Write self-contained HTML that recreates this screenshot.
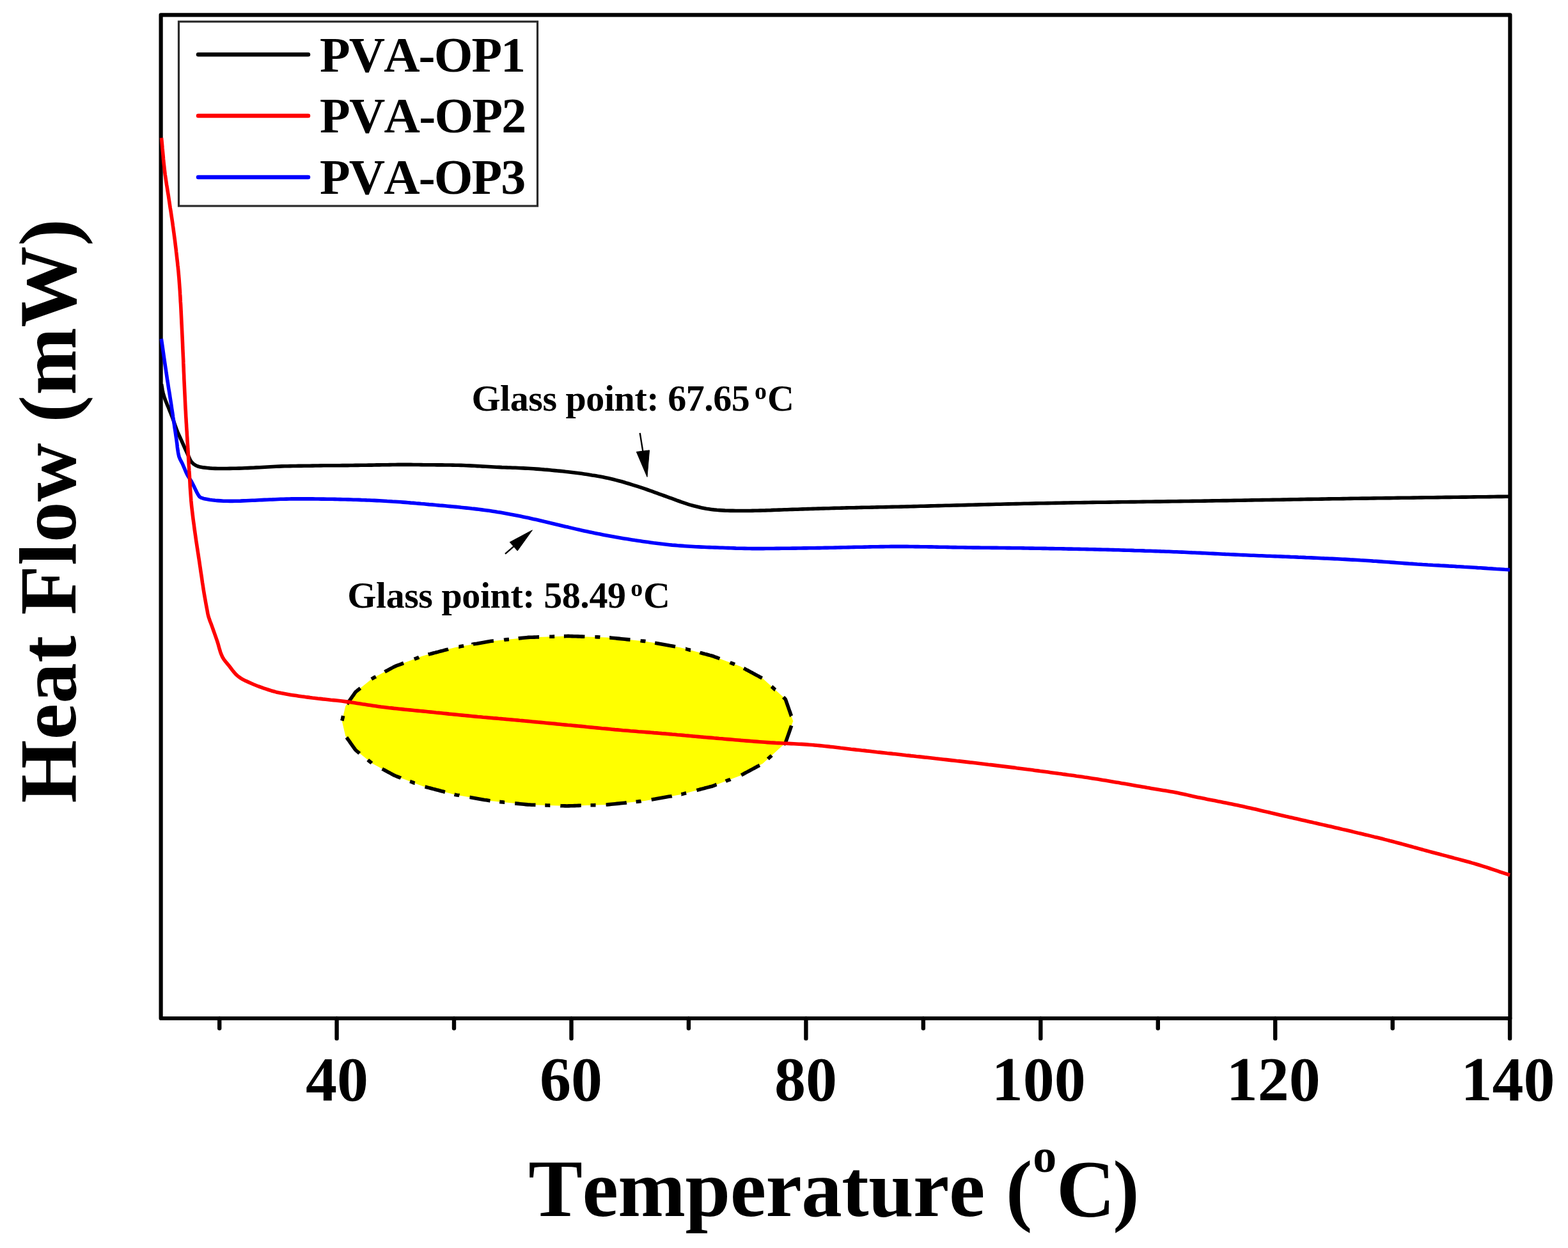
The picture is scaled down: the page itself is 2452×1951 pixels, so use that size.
<!DOCTYPE html>
<html><head><meta charset="utf-8"><title>DSC curves</title>
<style>
html,body{margin:0;padding:0;background:#fff;}
svg{display:block;}
text{font-family:"Liberation Serif","Times New Roman",serif;font-weight:bold;fill:#000;font-kerning:none;font-feature-settings:"kern" 0;}
</style></head><body>
<svg width="2452" height="1951" viewBox="0 0 2452 1951">
<rect x="0" y="0" width="2452" height="1951" fill="#fff"/>
<!-- highlighted ellipse -->
<path d="M1240.2,1127.2 L1228.2,1161.6 L1192.9,1193.6 L1157.7,1212.6 L1114.2,1228.9 L1063.8,1242.2 L1008.1,1252.0 L948.7,1258.0 L887.5,1260.0 L826.3,1258.0 L766.9,1252.0 L711.2,1242.2 L660.8,1228.9 L617.3,1212.6 L582.1,1193.6 L556.1,1172.6 L540.2,1150.3 L534.8,1127.2 L540.2,1104.1 L556.1,1081.8 L582.1,1060.8 L617.3,1041.8 L660.8,1025.5 L711.1,1012.2 L766.9,1002.4 L826.3,996.4 L887.5,994.4 L948.7,996.4 L1008.1,1002.4 L1063.8,1012.2 L1114.2,1025.5 L1157.7,1041.8 L1192.9,1060.8 L1228.2,1092.8 Z" fill="#ffff00"/>
<path d="M1237.7,1134.3 L1237.6,1134.6 L1237.0,1136.4 L1236.4,1138.1 L1235.8,1139.8 L1235.2,1141.5 L1234.6,1143.2 L1234.0,1145.0 L1233.4,1146.7 L1232.8,1148.4 L1232.2,1150.1 L1231.6,1151.8 L1231.0,1153.6 L1230.4,1155.3 L1229.8,1157.0 L1229.2,1158.7 L1228.6,1160.4 L1227.6,1162.1 L1225.8,1163.7 L1225.5,1164.0 M1206.8,1181.0 L1206.5,1181.3 L1204.7,1182.9 L1202.9,1184.5 L1201.2,1186.1 L1200.9,1186.4 M1187.9,1196.3 L1187.7,1196.4 L1185.9,1197.4 L1184.1,1198.3 L1182.4,1199.3 L1180.6,1200.2 L1178.8,1201.2 L1177.1,1202.1 L1175.3,1203.1 L1173.6,1204.0 L1171.8,1205.0 L1170.0,1205.9 L1168.3,1206.9 L1166.5,1207.8 L1164.7,1208.8 L1163.0,1209.7 L1161.2,1210.7 L1159.4,1211.6 L1159.2,1211.7 M1142.3,1218.3 L1141.7,1218.6 L1139.6,1219.4 L1137.4,1220.2 L1135.2,1221.0 L1134.8,1221.2 M1120.6,1226.5 L1120.0,1226.7 L1117.8,1227.6 L1115.7,1228.4 L1113.4,1229.2 L1110.9,1229.8 L1108.3,1230.5 L1105.8,1231.1 L1103.3,1231.8 L1100.8,1232.5 L1098.3,1233.1 L1095.7,1233.8 L1093.2,1234.5 L1090.7,1235.1 L1089.4,1235.5 M1073.1,1239.8 L1073.1,1239.8 L1070.6,1240.4 L1068.0,1241.1 L1065.5,1241.8 L1065.4,1241.8 M1050.7,1244.5 L1049.9,1244.7 L1047.1,1245.1 L1044.3,1245.6 L1041.6,1246.1 L1038.8,1246.6 L1036.0,1247.1 L1033.2,1247.6 L1030.4,1248.1 L1027.6,1248.6 L1024.8,1249.1 L1022.1,1249.5 L1019.3,1250.0 L1018.7,1250.1 M1002.6,1252.5 L1002.2,1252.6 L999.2,1252.9 L996.3,1253.2 L994.6,1253.4 M979.9,1254.8 L979.4,1254.9 L976.5,1255.2 L973.5,1255.5 L970.5,1255.8 L967.6,1256.1 L964.6,1256.4 L961.6,1256.7 L958.6,1257.0 L955.7,1257.3 L952.7,1257.6 L949.7,1257.9 L947.6,1258.0 M931.5,1258.6 L931.4,1258.6 L928.3,1258.7 L925.3,1258.8 L923.5,1258.8 M908.8,1259.3 L907.9,1259.3 L904.9,1259.4 L901.8,1259.5 L898.7,1259.6 L895.7,1259.7 L892.6,1259.8 L889.5,1259.9 L886.5,1260.0 L883.4,1259.9 L880.4,1259.8 L877.3,1259.7 L876.3,1259.6 M860.3,1259.1 L859.9,1259.1 L856.9,1259.0 L853.8,1258.9 L852.3,1258.8 M837.5,1258.4 L837.5,1258.4 L834.4,1258.3 L831.4,1258.2 L828.3,1258.0 L825.3,1257.9 L822.3,1257.6 L819.3,1257.3 L816.4,1257.0 L813.4,1256.7 L810.4,1256.4 L807.4,1256.1 L805.2,1255.9 M789.2,1254.2 L788.6,1254.2 L785.7,1253.9 L782.7,1253.6 L781.2,1253.4 M766.5,1251.9 L765.9,1251.8 L763.2,1251.3 L760.4,1250.8 L757.6,1250.4 L754.8,1249.9 L752.0,1249.4 L749.2,1248.9 L746.4,1248.4 L743.7,1247.9 L740.9,1247.4 L738.1,1246.9 L735.3,1246.4 L734.5,1246.3 M718.4,1243.5 L717.7,1243.3 L714.9,1242.9 L712.1,1242.4 L710.5,1242.0 M696.0,1238.2 L695.2,1238.0 L692.7,1237.3 L690.2,1236.7 L687.6,1236.0 L685.1,1235.3 L682.6,1234.7 L680.1,1234.0 L677.6,1233.4 L675.1,1232.7 L672.5,1232.0 L670.0,1231.4 L667.5,1230.7 L665.0,1230.0 L664.6,1229.9 M648.6,1224.3 L648.5,1224.3 L646.3,1223.5 L644.1,1222.7 L642.0,1221.8 L641.1,1221.5 M626.9,1216.2 L626.7,1216.1 L624.6,1215.3 L622.4,1214.5 L620.2,1213.7 L618.0,1212.8 L616.1,1211.9 L614.4,1211.0 L612.6,1210.0 L610.9,1209.1 L609.1,1208.1 L607.3,1207.2 L605.6,1206.2 L603.8,1205.3 L602.0,1204.3 L600.3,1203.4 L598.5,1202.4 L597.7,1202.0 M581.4,1193.1 L581.2,1192.9 L579.9,1191.9 L578.6,1190.8 L577.3,1189.8 L576.0,1188.7 L575.2,1188.0 M562.3,1177.7 L562.1,1177.5 L560.8,1176.5 L559.5,1175.4 L558.2,1174.4 L556.9,1173.3 L555.8,1172.2 L555.0,1171.1 L554.2,1170.0 L553.4,1168.9 L552.6,1167.8 L551.8,1166.7 L551.0,1165.5 L550.2,1164.4 L549.4,1163.3 L548.6,1162.2 L547.8,1161.1 L547.1,1159.9 L546.3,1158.8 L545.5,1157.7 L544.7,1156.6 L543.9,1155.5 L543.1,1154.4 L542.3,1153.2 L541.9,1152.7 M534.9,1126.8 L535.0,1126.4 L535.2,1125.3 L535.5,1124.1 L535.8,1123.0 L536.1,1121.8 L536.3,1120.7 L536.6,1119.5 L536.7,1119.0 M542.7,1100.5 L542.8,1100.4 L543.6,1099.3 L544.4,1098.2 L545.2,1097.1 L546.0,1095.9 L546.8,1094.8 L547.6,1093.7 L548.4,1092.6 L549.2,1091.5 L550.0,1090.4 L550.8,1089.2 L551.6,1088.1 L552.4,1087.0 L553.2,1085.9 L553.9,1084.8 L554.7,1083.6 L555.5,1082.5 L556.5,1081.4 L557.8,1080.4 L559.1,1079.3 L560.4,1078.3 L561.7,1077.2 L563.0,1076.2 L563.5,1075.8 M580.9,1061.7 L581.2,1061.5 L582.6,1060.5 L584.4,1059.5 L586.2,1058.6 L587.8,1057.7 M601.7,1050.3 L602.0,1050.1 L603.8,1049.1 L605.6,1048.2 L607.3,1047.2 L609.1,1046.3 L610.9,1045.3 L612.6,1044.4 L614.4,1043.4 L616.1,1042.5 L618.0,1041.6 L620.2,1040.7 L622.4,1039.9 L624.6,1039.1 L626.7,1038.3 L628.9,1037.5 L631.1,1036.7 L631.1,1036.7 M647.8,1030.4 L648.5,1030.1 L650.6,1029.3 L652.8,1028.5 L655.0,1027.7 L655.2,1027.6 M669.7,1023.1 L670.0,1023.0 L672.5,1022.4 L675.1,1021.7 L677.6,1021.0 L680.1,1020.4 L682.6,1019.7 L685.1,1019.1 L687.6,1018.4 L690.2,1017.7 L692.7,1017.1 L695.2,1016.4 L697.7,1015.7 L700.2,1015.1 L701.1,1014.8 M717.3,1011.1 L717.7,1011.1 L720.4,1010.6 L723.2,1010.1 L725.2,1009.7 M739.9,1007.2 L739.9,1007.1 L742.7,1006.6 L745.5,1006.2 L748.3,1005.7 L751.1,1005.2 L753.9,1004.7 L756.7,1004.2 L759.4,1003.7 L762.2,1003.2 L765.0,1002.7 L767.9,1002.3 L770.8,1002.0 L771.9,1001.9 M788.1,1000.3 L788.6,1000.2 L791.6,999.9 L794.6,999.6 L796.0,999.5 M810.7,998.0 L811.4,997.9 L814.4,997.6 L817.3,997.3 L820.3,997.0 L823.3,996.7 L826.3,996.4 L829.3,996.3 L832.4,996.2 L835.4,996.1 L838.5,996.0 L841.6,995.9 L843.1,995.9 M859.2,995.3 L859.9,995.3 L863.0,995.2 L866.1,995.1 L867.2,995.1 M881.9,994.6 L882.4,994.6 L885.5,994.5 L888.5,994.4 L891.6,994.5 L894.6,994.6 L897.7,994.7 L900.8,994.8 L903.8,994.9 L906.9,995.0 L910.0,995.1 L913.0,995.2 L914.4,995.3 M930.4,995.8 L931.4,995.8 L934.5,995.9 L937.5,996.0 L938.4,996.1 M953.1,996.9 L953.7,996.9 L956.7,997.2 L959.6,997.5 L962.6,997.8 L965.6,998.1 L968.5,998.4 L971.5,998.7 L974.5,999.0 L977.4,999.3 L980.4,999.6 L983.4,999.9 L985.5,1000.1 M1001.5,1001.7 L1002.2,1001.8 L1005.2,1002.1 L1008.1,1002.4 L1009.5,1002.6 M1024.1,1005.2 L1024.8,1005.3 L1027.6,1005.8 L1030.4,1006.3 L1033.2,1006.8 L1036.0,1007.3 L1038.8,1007.8 L1041.6,1008.3 L1044.3,1008.8 L1047.1,1009.3 L1049.9,1009.7 L1052.7,1010.2 L1055.5,1010.7 L1056.1,1010.8 M1072.1,1014.4 L1072.2,1014.4 L1074.8,1015.1 L1077.3,1015.7 L1079.8,1016.4 L1079.9,1016.4 M1094.4,1020.2 L1094.9,1020.4 L1097.4,1021.0 L1099.9,1021.7 L1102.5,1022.4 L1105.0,1023.0 L1107.5,1023.7 L1110.0,1024.4 L1112.5,1025.0 L1114.9,1025.7 L1117.1,1026.6 L1119.3,1027.4 L1121.5,1028.2 L1123.6,1029.0 L1125.4,1029.7 M1141.5,1035.7 L1141.7,1035.8 L1143.9,1036.7 L1146.1,1037.5 L1148.3,1038.3 L1149.0,1038.6 M1163.0,1044.7 L1163.6,1045.0 L1165.3,1045.9 L1167.1,1046.9 L1168.9,1047.8 L1170.6,1048.8 L1172.4,1049.7 L1174.1,1050.7 L1175.9,1051.6 L1177.7,1052.6 L1179.4,1053.5 L1181.2,1054.5 L1183.0,1055.4 L1184.7,1056.4 L1186.5,1057.3 L1188.2,1058.3 L1190.0,1059.2 L1191.7,1060.1 M1206.5,1073.2 L1207.0,1073.6 L1208.8,1075.2 L1210.6,1076.8 L1212.3,1078.4 L1212.5,1078.5 M1224.9,1089.9 L1225.2,1090.2 L1227.0,1091.8 L1228.4,1093.4 L1229.0,1095.1 L1229.6,1096.8 L1230.2,1098.6 L1230.8,1100.3 L1231.4,1102.0 L1232.0,1103.7 L1232.6,1105.4 L1233.2,1107.2 L1233.8,1108.9 L1234.4,1110.6 L1235.0,1112.3 L1235.6,1114.0 L1236.2,1115.7 L1236.8,1117.5 L1237.4,1119.2 L1237.5,1119.3" fill="none" stroke="#000" stroke-width="5.6" stroke-linecap="butt" stroke-linejoin="miter"/>
<!-- frame -->
<rect x="251.6" y="23.4" width="2109.8" height="1568.6" fill="none" stroke="#000" stroke-width="6.2" stroke-linejoin="round"/>
<g stroke="#000" stroke-width="6.4" stroke-linecap="round"><line x1="343.2" y1="1592" x2="343.2" y2="1607.6" /><line x1="526.6" y1="1592" x2="526.6" y2="1623.4" /><line x1="710.0" y1="1592" x2="710.0" y2="1607.6" /><line x1="893.5" y1="1592" x2="893.5" y2="1623.4" /><line x1="1076.9" y1="1592" x2="1076.9" y2="1607.6" /><line x1="1260.4" y1="1592" x2="1260.4" y2="1623.4" /><line x1="1443.8" y1="1592" x2="1443.8" y2="1607.6" /><line x1="1627.3" y1="1592" x2="1627.3" y2="1623.4" /><line x1="1810.8" y1="1592" x2="1810.8" y2="1607.6" /><line x1="1994.2" y1="1592" x2="1994.2" y2="1623.4" /><line x1="2177.7" y1="1592" x2="2177.7" y2="1607.6" /><line x1="2361.1" y1="1592" x2="2361.1" y2="1623.4" /></g>
<!-- curves -->
<g fill="none" stroke-width="5.6" stroke-linejoin="round" stroke-linecap="butt">
<path d="M252.5,600.5 L253.3,605.0 L254.0,609.5 L254.9,613.7 L256.0,617.9 L257.5,622.5 L258.6,625.5 L260.0,629.0 L261.5,632.8 L263.2,636.7 L264.8,640.8 L266.5,644.8 L268.0,648.7 L269.7,653.1 L271.3,657.7 L272.9,662.2 L274.4,666.6 L276.0,670.9 L277.6,675.0 L279.6,679.6 L281.6,684.0 L283.5,688.2 L285.5,692.5 L287.5,697.0 L289.5,701.5 L291.5,705.9 L293.4,710.0 L295.4,714.5 L297.3,718.7 L299.5,722.2 L302.6,725.2 L306.0,727.5 L309.4,729.0 L313.2,730.1 L318.4,730.9 L324.0,731.5 L327.9,731.9 L331.9,732.2 L336.4,732.4 L340.6,732.5 L345.2,732.5 L350.0,732.5 L354.8,732.5 L359.6,732.4 L364.2,732.3 L368.9,732.2 L373.5,732.1 L378.2,732.0 L382.8,731.8 L387.4,731.6 L391.9,731.4 L396.4,731.2 L401.1,730.9 L406.0,730.7 L410.0,730.5 L414.2,730.3 L418.5,730.0 L422.9,729.8 L427.4,729.5 L431.9,729.3 L436.3,729.1 L440.7,728.9 L445.0,728.8 L449.4,728.7 L453.7,728.6 L458.1,728.5 L462.4,728.5 L466.8,728.4 L471.1,728.4 L475.5,728.3 L479.9,728.2 L484.3,728.2 L488.7,728.1 L493.1,728.0 L497.5,728.0 L501.8,727.9 L506.1,727.8 L510.3,727.8 L514.6,727.8 L518.8,727.7 L522.9,727.7 L527.0,727.7 L531.1,727.7 L535.5,727.6 L540.0,727.6 L543.7,727.6 L547.6,727.5 L551.6,727.5 L555.7,727.4 L559.8,727.4 L564.0,727.3 L568.2,727.2 L572.5,727.2 L576.7,727.1 L580.9,727.1 L585.0,727.0 L589.1,726.9 L593.2,726.9 L597.4,726.8 L601.5,726.7 L605.6,726.7 L609.8,726.6 L613.9,726.5 L618.0,726.5 L622.2,726.4 L626.3,726.4 L630.4,726.4 L634.5,726.4 L638.5,726.4 L642.6,726.4 L646.6,726.5 L650.7,726.5 L654.7,726.5 L658.8,726.6 L662.8,726.7 L666.9,726.7 L670.9,726.8 L675.0,726.8 L679.1,726.8 L683.2,726.9 L687.4,726.9 L691.5,726.9 L695.6,727.0 L699.7,727.0 L703.9,727.0 L708.0,727.1 L712.3,727.2 L716.6,727.3 L720.9,727.4 L725.0,727.5 L729.2,727.7 L733.4,727.9 L737.7,728.1 L741.9,728.3 L746.3,728.6 L750.6,728.8 L755.0,729.1 L759.3,729.3 L763.6,729.5 L768.0,729.8 L772.2,730.0 L776.5,730.2 L780.7,730.4 L784.9,730.6 L789.1,730.7 L793.3,730.9 L797.5,731.0 L801.6,731.2 L805.8,731.3 L810.0,731.5 L814.1,731.7 L818.1,731.9 L822.1,732.1 L826.1,732.3 L830.0,732.5 L834.4,732.8 L838.7,733.1 L842.9,733.4 L847.1,733.7 L851.2,734.1 L855.3,734.4 L859.4,734.8 L863.4,735.2 L867.6,735.6 L871.7,736.0 L875.9,736.4 L880.1,736.8 L884.2,737.3 L888.4,737.7 L892.6,738.2 L896.8,738.7 L901.0,739.2 L905.2,739.7 L909.3,740.3 L913.5,740.9 L917.7,741.5 L921.9,742.2 L926.0,742.9 L930.2,743.5 L934.4,744.3 L938.6,745.0 L942.7,745.8 L946.9,746.7 L951.0,747.6 L955.2,748.5 L959.4,749.5 L963.6,750.6 L967.8,751.7 L972.0,752.8 L976.2,754.0 L980.3,755.3 L984.5,756.5 L988.7,757.8 L992.8,759.1 L997.0,760.4 L1000.8,761.6 L1004.6,762.9 L1008.4,764.2 L1012.2,765.5 L1016.0,766.9 L1019.8,768.2 L1023.6,769.6 L1027.3,770.9 L1031.1,772.3 L1034.9,773.7 L1038.7,775.0 L1042.5,776.4 L1046.4,777.8 L1050.3,779.2 L1054.2,780.6 L1058.1,782.1 L1062.0,783.5 L1065.8,784.9 L1069.6,786.2 L1073.3,787.4 L1076.9,788.6 L1080.4,789.6 L1084.7,790.8 L1088.8,791.8 L1092.9,792.8 L1096.8,793.7 L1100.7,794.5 L1104.5,795.2 L1108.3,795.8 L1112.7,796.4 L1116.8,796.9 L1121.0,797.3 L1125.3,797.6 L1130.0,797.9 L1133.8,798.1 L1137.8,798.2 L1141.9,798.4 L1146.2,798.4 L1150.6,798.5 L1155.1,798.5 L1159.8,798.5 L1164.6,798.5 L1169.6,798.5 L1173.2,798.5 L1176.9,798.4 L1180.7,798.3 L1184.6,798.2 L1188.6,798.1 L1192.7,798.0 L1196.8,797.9 L1201.0,797.7 L1205.3,797.6 L1209.5,797.4 L1213.8,797.3 L1218.1,797.1 L1222.3,797.0 L1226.6,796.8 L1230.8,796.7 L1235.0,796.5 L1239.1,796.4 L1243.2,796.3 L1247.2,796.2 L1251.3,796.0 L1255.3,795.9 L1259.3,795.8 L1263.3,795.6 L1267.3,795.5 L1271.3,795.4 L1275.3,795.3 L1279.4,795.1 L1283.4,795.0 L1287.5,794.9 L1291.7,794.8 L1295.9,794.7 L1300.1,794.5 L1304.4,794.4 L1308.7,794.3 L1312.6,794.2 L1316.4,794.1 L1320.2,794.0 L1324.0,793.9 L1327.8,793.8 L1331.6,793.8 L1335.4,793.7 L1339.2,793.6 L1343.1,793.5 L1347.0,793.4 L1351.0,793.3 L1355.0,793.3 L1359.1,793.2 L1363.2,793.1 L1367.4,793.0 L1371.8,792.9 L1376.2,792.8 L1380.7,792.7 L1385.3,792.6 L1390.1,792.5 L1395.0,792.4 L1400.0,792.3 L1404.5,792.2 L1409.2,792.1 L1414.0,792.0 L1418.8,791.9 L1423.8,791.7 L1428.9,791.6 L1434.1,791.5 L1439.4,791.3 L1444.8,791.2 L1450.2,791.1 L1455.8,790.9 L1461.4,790.8 L1467.1,790.6 L1472.8,790.5 L1478.6,790.3 L1484.5,790.2 L1490.5,790.0 L1496.4,789.9 L1502.5,789.7 L1508.5,789.6 L1514.6,789.4 L1520.8,789.2 L1527.0,789.1 L1533.1,788.9 L1539.4,788.8 L1545.6,788.6 L1551.8,788.5 L1558.1,788.3 L1564.3,788.2 L1570.6,788.0 L1576.8,787.9 L1583.0,787.7 L1589.2,787.6 L1595.4,787.5 L1601.6,787.3 L1607.7,787.2 L1613.8,787.1 L1619.9,786.9 L1625.9,786.8 L1631.9,786.7 L1638.2,786.6 L1644.5,786.5 L1650.9,786.4 L1657.2,786.2 L1663.6,786.1 L1670.1,786.0 L1676.5,785.9 L1682.9,785.8 L1689.4,785.7 L1695.9,785.6 L1702.4,785.5 L1708.9,785.4 L1715.5,785.3 L1722.0,785.2 L1728.5,785.2 L1735.1,785.1 L1741.6,785.0 L1748.2,784.9 L1754.7,784.8 L1761.3,784.7 L1767.9,784.6 L1774.4,784.6 L1781.0,784.5 L1787.5,784.4 L1794.0,784.3 L1800.6,784.2 L1807.1,784.1 L1813.6,784.1 L1820.1,784.0 L1826.5,783.9 L1833.0,783.8 L1839.4,783.7 L1845.8,783.6 L1852.2,783.5 L1858.6,783.5 L1864.9,783.4 L1871.2,783.3 L1877.5,783.2 L1883.8,783.1 L1890.0,783.0 L1895.7,782.9 L1901.5,782.8 L1907.1,782.7 L1912.8,782.6 L1918.5,782.6 L1924.1,782.5 L1929.7,782.4 L1935.2,782.3 L1940.8,782.2 L1946.4,782.1 L1951.9,782.0 L1957.4,781.9 L1962.9,781.8 L1968.4,781.7 L1973.9,781.6 L1979.4,781.5 L1984.8,781.5 L1990.3,781.4 L1995.7,781.3 L2001.2,781.2 L2006.7,781.1 L2012.1,781.0 L2017.6,780.9 L2023.0,780.8 L2028.5,780.7 L2034.0,780.6 L2039.4,780.5 L2044.9,780.4 L2050.4,780.4 L2055.9,780.3 L2061.4,780.2 L2067.0,780.1 L2072.5,780.0 L2078.1,779.9 L2083.7,779.8 L2089.3,779.7 L2094.9,779.7 L2100.5,779.6 L2106.2,779.5 L2111.9,779.4 L2118.0,779.3 L2124.0,779.2 L2130.1,779.1 L2136.2,779.1 L2142.3,779.0 L2148.5,778.9 L2154.6,778.8 L2160.8,778.7 L2167.0,778.6 L2173.2,778.6 L2179.4,778.5 L2185.6,778.4 L2191.8,778.3 L2198.0,778.2 L2204.3,778.2 L2210.5,778.1 L2216.8,778.0 L2223.0,777.9 L2229.3,777.8 L2235.5,777.8 L2241.8,777.7 L2248.1,777.6 L2254.4,777.5 L2260.7,777.4 L2267.0,777.4 L2273.2,777.3 L2279.5,777.2 L2285.8,777.1 L2292.1,777.1 L2298.4,777.0 L2304.7,776.9 L2310.9,776.8 L2317.2,776.8 L2323.5,776.7 L2329.8,776.6 L2336.0,776.5 L2342.3,776.4 L2348.5,776.4 L2354.8,776.3 L2361.0,776.2" stroke="#000"/>
<path d="M252.3,529.7 L252.9,533.8 L253.5,537.9 L254.1,542.0 L254.7,546.2 L255.3,550.4 L255.9,554.6 L256.5,558.8 L257.1,562.9 L257.7,567.1 L258.3,571.1 L258.9,575.1 L259.5,579.0 L260.0,582.8 L260.6,586.5 L261.1,590.0 L261.8,594.8 L262.6,599.4 L263.2,603.8 L263.9,608.1 L264.6,612.3 L265.3,616.5 L265.9,620.7 L266.6,625.0 L267.3,629.4 L268.0,633.9 L268.6,638.3 L269.3,642.8 L270.0,647.2 L270.6,651.6 L271.3,655.9 L271.9,660.0 L272.6,664.6 L273.2,669.0 L273.9,673.3 L274.5,677.5 L275.1,681.8 L275.8,686.2 L276.3,690.2 L276.9,694.5 L277.3,698.8 L277.9,703.0 L278.5,707.0 L279.2,710.7 L280.0,714.0 L281.6,718.0 L283.4,721.4 L285.3,725.0 L287.0,729.0 L288.8,733.2 L290.6,737.5 L292.5,741.5 L294.8,745.5 L297.2,749.2 L299.7,753.3 L301.5,756.8 L303.5,760.8 L305.5,765.0 L307.5,769.1 L309.3,772.5 L310.9,775.0 L312.2,776.7 L313.8,777.8 L318.4,779.4 L324.0,780.5 L327.9,781.2 L331.9,781.8 L336.4,782.3 L340.5,782.6 L344.9,782.9 L349.6,783.2 L354.5,783.3 L359.6,783.4 L363.6,783.4 L367.6,783.3 L371.7,783.2 L376.0,783.1 L380.4,782.9 L384.9,782.7 L389.6,782.5 L394.4,782.3 L398.1,782.2 L401.8,782.0 L405.6,781.8 L409.5,781.6 L413.5,781.4 L417.6,781.2 L421.7,781.0 L425.9,780.9 L430.1,780.7 L434.5,780.5 L438.8,780.3 L443.3,780.2 L447.8,780.1 L452.3,780.0 L456.1,779.9 L460.0,779.9 L464.0,779.9 L468.0,779.9 L472.1,779.9 L476.3,779.9 L480.6,779.9 L484.8,779.9 L489.1,779.9 L493.5,780.0 L497.8,780.0 L502.2,780.1 L506.5,780.1 L510.8,780.2 L515.2,780.3 L519.4,780.3 L523.7,780.4 L527.8,780.5 L532.0,780.6 L536.0,780.7 L540.0,780.8 L544.3,780.9 L548.6,781.0 L552.8,781.2 L556.9,781.3 L561.1,781.4 L565.2,781.6 L569.2,781.7 L573.3,781.9 L577.3,782.0 L581.4,782.2 L585.4,782.4 L589.4,782.6 L593.4,782.8 L597.4,783.0 L601.5,783.2 L605.5,783.5 L609.6,783.7 L613.7,784.0 L617.8,784.2 L621.9,784.5 L626.0,784.8 L630.1,785.1 L634.1,785.4 L638.2,785.7 L642.3,786.1 L646.4,786.4 L650.5,786.8 L654.6,787.1 L658.7,787.5 L662.8,787.8 L666.8,788.2 L670.9,788.6 L675.0,788.9 L679.1,789.3 L683.2,789.7 L687.4,790.1 L691.6,790.4 L695.9,790.8 L700.1,791.2 L704.4,791.6 L708.7,792.0 L712.9,792.4 L717.1,792.8 L721.3,793.3 L725.5,793.7 L729.6,794.1 L733.6,794.5 L737.5,795.0 L741.3,795.4 L745.1,795.9 L748.7,796.3 L753.3,796.9 L757.7,797.5 L761.9,798.0 L766.0,798.6 L770.1,799.2 L774.1,799.8 L778.0,800.5 L782.0,801.1 L786.0,801.8 L790.0,802.5 L794.0,803.2 L798.0,804.0 L802.0,804.7 L806.0,805.5 L810.0,806.3 L814.0,807.1 L818.0,807.9 L822.0,808.8 L826.0,809.6 L830.0,810.5 L834.1,811.4 L838.3,812.3 L842.5,813.3 L846.6,814.3 L850.8,815.3 L855.0,816.2 L859.2,817.2 L863.3,818.2 L867.5,819.2 L871.7,820.2 L875.9,821.2 L880.1,822.2 L884.2,823.2 L888.4,824.1 L892.6,825.1 L896.8,826.1 L901.0,827.1 L905.1,828.0 L909.3,829.0 L913.5,829.9 L917.7,830.8 L921.8,831.7 L926.0,832.6 L930.2,833.4 L934.3,834.3 L938.5,835.1 L942.7,835.9 L946.8,836.7 L951.0,837.5 L955.2,838.3 L959.4,839.1 L963.5,839.8 L967.7,840.5 L971.9,841.2 L976.1,841.9 L980.3,842.6 L984.5,843.3 L988.6,843.9 L992.8,844.6 L997.0,845.2 L1001.2,845.8 L1005.3,846.4 L1009.5,847.0 L1013.7,847.6 L1017.8,848.2 L1022.0,848.8 L1026.2,849.3 L1030.4,849.8 L1034.5,850.3 L1038.7,850.8 L1042.8,851.2 L1047.0,851.7 L1051.1,852.1 L1055.2,852.4 L1059.3,852.8 L1063.4,853.1 L1067.6,853.4 L1071.8,853.7 L1076.1,854.0 L1080.4,854.3 L1084.4,854.5 L1088.5,854.8 L1092.6,854.9 L1096.8,855.1 L1101.0,855.3 L1105.3,855.5 L1109.5,855.6 L1113.7,855.8 L1117.9,855.9 L1122.0,856.0 L1126.0,856.2 L1130.0,856.3 L1134.5,856.5 L1138.7,856.6 L1142.8,856.8 L1146.9,856.9 L1151.0,857.1 L1155.2,857.2 L1159.6,857.3 L1164.4,857.4 L1169.6,857.5 L1172.7,857.5 L1176.0,857.6 L1179.3,857.6 L1182.8,857.6 L1186.4,857.6 L1190.1,857.6 L1193.8,857.6 L1197.7,857.5 L1201.6,857.5 L1205.6,857.5 L1209.7,857.5 L1213.8,857.4 L1218.0,857.4 L1222.2,857.3 L1226.5,857.3 L1230.8,857.3 L1235.1,857.2 L1239.4,857.1 L1243.8,857.1 L1248.1,857.0 L1252.4,857.0 L1256.8,856.9 L1261.1,856.9 L1265.4,856.8 L1269.7,856.8 L1273.9,856.7 L1277.8,856.6 L1281.8,856.6 L1285.8,856.5 L1289.8,856.4 L1293.8,856.4 L1297.9,856.3 L1302.0,856.2 L1306.1,856.1 L1310.2,856.0 L1314.3,855.9 L1318.5,855.8 L1322.6,855.7 L1326.8,855.6 L1331.0,855.5 L1335.2,855.4 L1339.4,855.3 L1343.6,855.2 L1347.8,855.2 L1352.0,855.1 L1356.2,855.0 L1360.3,854.9 L1364.5,854.8 L1368.7,854.7 L1372.8,854.7 L1377.0,854.6 L1381.1,854.6 L1385.2,854.5 L1389.3,854.5 L1393.4,854.4 L1397.5,854.4 L1401.5,854.4 L1405.7,854.4 L1410.0,854.4 L1414.3,854.4 L1418.5,854.4 L1422.8,854.5 L1427.1,854.5 L1431.3,854.6 L1435.6,854.6 L1439.9,854.7 L1444.1,854.7 L1448.4,854.8 L1452.6,854.9 L1456.8,854.9 L1461.0,855.0 L1465.2,855.1 L1469.4,855.2 L1473.5,855.2 L1477.7,855.3 L1481.8,855.4 L1485.9,855.5 L1489.9,855.6 L1494.0,855.6 L1498.0,855.7 L1501.9,855.8 L1505.8,855.8 L1509.7,855.9 L1513.6,856.0 L1517.4,856.0 L1521.8,856.1 L1526.2,856.1 L1530.4,856.1 L1534.6,856.2 L1538.7,856.2 L1542.8,856.3 L1546.8,856.3 L1550.8,856.4 L1554.7,856.4 L1558.7,856.4 L1562.7,856.5 L1566.6,856.5 L1570.6,856.5 L1574.6,856.6 L1578.7,856.6 L1582.8,856.7 L1587.0,856.7 L1591.2,856.8 L1595.6,856.8 L1600.0,856.9 L1603.7,857.0 L1607.4,857.0 L1611.2,857.1 L1615.0,857.1 L1618.8,857.2 L1622.7,857.2 L1626.6,857.3 L1630.6,857.4 L1634.6,857.4 L1638.5,857.5 L1642.6,857.6 L1646.6,857.6 L1650.7,857.7 L1654.7,857.8 L1658.8,857.8 L1662.9,857.9 L1667.0,858.0 L1671.1,858.1 L1675.2,858.1 L1679.4,858.2 L1683.5,858.3 L1687.6,858.4 L1691.7,858.5 L1695.8,858.5 L1699.8,858.6 L1703.9,858.7 L1708.0,858.8 L1712.0,858.9 L1716.0,859.0 L1720.1,859.1 L1724.3,859.2 L1728.4,859.3 L1732.6,859.4 L1736.7,859.5 L1740.8,859.6 L1745.0,859.7 L1749.1,859.8 L1753.3,860.0 L1757.4,860.1 L1761.5,860.2 L1765.7,860.3 L1769.8,860.4 L1774.0,860.6 L1778.1,860.7 L1782.2,860.8 L1786.4,860.9 L1790.5,861.1 L1794.6,861.2 L1798.8,861.3 L1802.9,861.5 L1807.1,861.6 L1811.2,861.7 L1815.3,861.9 L1819.5,862.0 L1823.6,862.2 L1827.8,862.3 L1831.9,862.5 L1835.9,862.7 L1839.9,862.8 L1843.9,863.0 L1848.0,863.1 L1852.0,863.3 L1856.0,863.5 L1860.1,863.7 L1864.1,863.9 L1868.1,864.0 L1872.2,864.2 L1876.2,864.4 L1880.3,864.6 L1884.3,864.8 L1888.3,865.0 L1892.4,865.2 L1896.4,865.4 L1900.4,865.6 L1904.4,865.8 L1908.4,866.0 L1912.4,866.2 L1916.4,866.4 L1920.4,866.5 L1924.4,866.7 L1928.3,866.9 L1932.3,867.1 L1936.2,867.3 L1940.1,867.5 L1944.0,867.6 L1947.9,867.8 L1952.1,868.0 L1956.3,868.2 L1960.5,868.3 L1964.7,868.5 L1968.9,868.7 L1973.1,868.8 L1977.3,869.0 L1981.5,869.2 L1985.6,869.3 L1989.8,869.5 L1993.9,869.6 L1998.0,869.8 L2002.1,869.9 L2006.2,870.1 L2010.3,870.3 L2014.4,870.4 L2018.4,870.6 L2022.4,870.7 L2026.4,870.9 L2030.4,871.1 L2034.4,871.2 L2038.3,871.4 L2042.2,871.6 L2046.1,871.7 L2050.0,871.9 L2054.3,872.1 L2058.5,872.3 L2062.7,872.5 L2066.8,872.7 L2071.0,872.9 L2075.0,873.0 L2079.1,873.2 L2083.2,873.4 L2087.2,873.6 L2091.2,873.8 L2095.2,874.0 L2099.2,874.2 L2103.2,874.4 L2107.1,874.6 L2111.1,874.9 L2115.1,875.1 L2119.1,875.3 L2123.1,875.5 L2127.2,875.8 L2131.2,876.0 L2135.3,876.2 L2139.3,876.5 L2143.4,876.8 L2147.4,877.1 L2151.5,877.3 L2155.5,877.6 L2159.6,877.9 L2163.6,878.2 L2167.7,878.5 L2171.8,878.8 L2175.8,879.1 L2179.9,879.4 L2183.9,879.7 L2188.0,880.0 L2192.0,880.3 L2196.1,880.6 L2200.1,880.9 L2204.2,881.2 L2208.2,881.4 L2212.3,881.7 L2216.4,882.0 L2220.5,882.2 L2224.5,882.5 L2228.7,882.7 L2232.8,883.0 L2236.9,883.2 L2241.0,883.5 L2245.1,883.7 L2249.3,883.9 L2253.4,884.2 L2257.5,884.4 L2261.6,884.6 L2265.6,884.9 L2269.7,885.1 L2273.7,885.3 L2277.7,885.6 L2281.7,885.8 L2285.7,886.0 L2289.6,886.3 L2293.5,886.5 L2297.9,886.8 L2302.2,887.0 L2306.5,887.3 L2310.8,887.6 L2315.1,887.8 L2319.3,888.1 L2323.5,888.4 L2327.6,888.7 L2331.8,888.9 L2336.0,889.2 L2340.1,889.5 L2344.3,889.7 L2348.4,890.0 L2352.6,890.3 L2356.8,890.5 L2361.0,890.8" stroke="#0000ff"/>
<path d="M252.5,215.5 L252.9,219.6 L253.3,223.7 L253.7,227.9 L254.0,232.0 L254.4,236.1 L254.8,240.3 L255.2,244.4 L255.5,248.5 L255.9,252.6 L256.3,256.7 L256.8,260.7 L257.2,264.7 L257.7,268.6 L258.2,272.8 L258.8,276.9 L259.4,281.0 L260.0,285.0 L260.6,289.0 L261.3,293.0 L261.9,297.0 L262.5,300.9 L263.2,304.9 L263.8,308.9 L264.4,312.9 L265.0,316.9 L265.6,321.0 L266.2,325.0 L266.9,329.0 L267.5,333.0 L268.1,337.1 L268.7,341.1 L269.3,345.1 L269.9,349.1 L270.4,353.2 L271.0,357.2 L271.5,361.2 L272.1,365.3 L272.6,369.4 L273.2,373.6 L273.7,377.7 L274.2,381.8 L274.7,385.9 L275.2,389.9 L275.6,393.8 L276.1,397.7 L276.5,401.5 L277.0,405.9 L277.5,410.1 L277.9,414.3 L278.4,418.4 L278.8,422.5 L279.2,426.5 L279.5,430.6 L279.9,434.7 L280.2,438.8 L280.5,443.0 L280.8,447.1 L281.1,451.2 L281.4,455.3 L281.6,459.5 L281.9,463.7 L282.1,467.9 L282.3,471.9 L282.6,475.9 L282.8,479.9 L283.0,483.9 L283.2,488.0 L283.4,492.1 L283.6,496.3 L283.8,500.6 L284.0,505.0 L284.2,508.9 L284.4,512.9 L284.6,517.0 L284.8,521.2 L285.0,525.4 L285.2,529.7 L285.4,534.0 L285.6,538.3 L285.7,542.5 L285.9,546.7 L286.1,550.9 L286.3,555.0 L286.5,559.2 L286.7,563.3 L286.8,567.4 L287.0,571.5 L287.2,575.6 L287.3,579.6 L287.5,583.7 L287.7,587.7 L287.8,591.8 L288.0,595.9 L288.2,600.0 L288.4,604.2 L288.6,608.4 L288.8,612.6 L289.0,616.9 L289.2,621.1 L289.4,625.4 L289.6,629.6 L289.8,633.9 L290.0,638.1 L290.3,642.4 L290.5,646.6 L290.7,650.8 L291.0,655.1 L291.2,659.3 L291.5,663.6 L291.7,667.8 L292.0,672.1 L292.3,676.3 L292.5,680.6 L292.8,684.8 L293.0,689.1 L293.3,693.3 L293.6,697.5 L293.8,701.8 L294.1,706.0 L294.3,710.2 L294.6,714.5 L294.8,718.7 L295.1,723.0 L295.3,727.2 L295.6,731.4 L295.8,735.7 L296.1,739.9 L296.4,744.1 L296.6,748.4 L296.9,752.6 L297.1,756.9 L297.3,761.1 L297.6,765.4 L297.9,769.6 L298.2,773.9 L298.5,778.1 L298.8,782.4 L299.2,786.6 L299.6,790.8 L300.1,795.1 L300.6,799.3 L301.1,803.6 L301.6,807.8 L302.1,812.0 L302.7,816.3 L303.3,820.5 L303.8,824.7 L304.4,829.0 L305.0,833.2 L305.6,837.4 L306.2,841.7 L306.8,845.9 L307.5,850.2 L308.1,854.4 L308.8,858.7 L309.4,862.9 L310.1,867.2 L310.7,871.4 L311.4,875.7 L312.0,879.9 L312.6,884.2 L313.3,888.6 L313.9,893.0 L314.6,897.5 L315.3,902.0 L315.9,906.4 L316.5,910.7 L317.2,914.9 L317.8,919.0 L318.4,922.9 L319.0,926.5 L319.9,931.8 L320.8,936.7 L321.6,941.4 L322.4,945.7 L323.2,949.9 L324.1,954.8 L324.9,959.3 L326.0,963.8 L327.2,967.5 L328.5,971.2 L330.0,975.0 L331.5,979.1 L332.8,982.7 L334.1,986.5 L335.5,990.4 L336.9,994.4 L338.3,998.4 L339.7,1002.4 L341.0,1006.6 L342.2,1010.9 L343.4,1015.2 L344.7,1019.4 L346.2,1023.4 L347.8,1027.0 L350.1,1030.9 L352.7,1034.3 L355.5,1037.6 L358.3,1041.0 L360.8,1044.3 L363.4,1047.7 L366.2,1051.1 L369.1,1054.4 L372.3,1057.3 L376.0,1059.9 L379.9,1062.3 L384.2,1064.4 L388.6,1066.4 L393.3,1068.5 L396.7,1070.0 L400.4,1071.5 L404.2,1073.0 L408.2,1074.4 L412.2,1075.9 L416.2,1077.2 L420.2,1078.5 L424.0,1079.7 L427.8,1080.8 L431.9,1081.9 L435.8,1082.8 L439.7,1083.6 L443.6,1084.3 L447.5,1085.0 L451.5,1085.7 L455.7,1086.4 L459.6,1087.0 L463.5,1087.6 L467.5,1088.2 L471.6,1088.8 L475.7,1089.3 L479.9,1089.9 L484.2,1090.4 L488.5,1091.0 L492.8,1091.5 L496.8,1092.0 L500.8,1092.4 L504.9,1092.9 L509.0,1093.3 L513.1,1093.7 L517.3,1094.2 L521.6,1094.6 L525.9,1095.0 L530.2,1095.5 L534.6,1096.0 L539.1,1096.6 L542.9,1097.1 L546.8,1097.6 L550.7,1098.2 L554.6,1098.8 L558.6,1099.4 L562.7,1100.0 L566.7,1100.7 L570.8,1101.3 L574.9,1101.9 L579.1,1102.6 L583.2,1103.2 L587.4,1103.8 L591.6,1104.4 L595.8,1105.0 L600.0,1105.5 L604.0,1106.0 L608.0,1106.5 L612.0,1106.9 L616.0,1107.4 L620.1,1107.8 L624.2,1108.2 L628.3,1108.6 L632.4,1109.1 L636.6,1109.5 L640.7,1109.9 L644.8,1110.3 L649.0,1110.7 L653.1,1111.1 L657.3,1111.5 L661.4,1111.9 L665.5,1112.3 L669.6,1112.7 L673.7,1113.1 L677.8,1113.5 L681.9,1114.0 L686.0,1114.4 L690.0,1114.8 L694.1,1115.2 L698.2,1115.6 L702.3,1116.1 L706.4,1116.5 L710.5,1116.9 L714.6,1117.3 L718.7,1117.7 L722.7,1118.1 L726.8,1118.5 L730.9,1118.9 L735.0,1119.3 L739.1,1119.7 L743.2,1120.1 L747.2,1120.5 L751.3,1120.8 L755.3,1121.2 L759.3,1121.5 L763.3,1121.9 L767.3,1122.2 L771.3,1122.6 L775.3,1122.9 L779.4,1123.3 L783.4,1123.6 L787.5,1124.0 L791.7,1124.4 L795.9,1124.7 L800.1,1125.1 L804.4,1125.5 L808.7,1125.9 L812.6,1126.3 L816.6,1126.6 L820.6,1127.0 L824.7,1127.4 L828.9,1127.8 L833.0,1128.2 L837.3,1128.6 L841.5,1129.0 L845.8,1129.4 L850.1,1129.8 L854.4,1130.2 L858.6,1130.6 L862.9,1131.0 L867.2,1131.4 L871.4,1131.9 L875.7,1132.3 L879.8,1132.7 L884.0,1133.1 L888.1,1133.5 L892.1,1133.8 L896.1,1134.2 L900.0,1134.6 L904.3,1135.0 L908.6,1135.4 L912.8,1135.8 L917.0,1136.3 L921.2,1136.7 L925.3,1137.1 L929.3,1137.5 L933.4,1137.9 L937.4,1138.3 L941.4,1138.7 L945.4,1139.0 L949.4,1139.4 L953.4,1139.8 L957.4,1140.2 L961.5,1140.6 L965.5,1140.9 L969.6,1141.3 L973.7,1141.7 L977.8,1142.0 L981.9,1142.3 L986.0,1142.7 L990.0,1143.0 L994.1,1143.3 L998.2,1143.7 L1002.3,1144.0 L1006.4,1144.3 L1010.5,1144.6 L1014.6,1144.9 L1018.7,1145.2 L1022.7,1145.6 L1026.8,1145.9 L1030.9,1146.2 L1035.0,1146.6 L1039.1,1146.9 L1043.2,1147.2 L1047.2,1147.6 L1051.3,1148.0 L1055.3,1148.3 L1059.3,1148.7 L1063.3,1149.0 L1067.3,1149.4 L1071.3,1149.8 L1075.3,1150.1 L1079.4,1150.5 L1083.4,1150.9 L1087.5,1151.2 L1091.7,1151.6 L1095.9,1152.0 L1100.1,1152.4 L1104.4,1152.7 L1108.7,1153.1 L1112.6,1153.4 L1116.6,1153.8 L1120.6,1154.1 L1124.7,1154.5 L1128.9,1154.8 L1133.0,1155.2 L1137.3,1155.6 L1141.5,1155.9 L1145.8,1156.3 L1150.1,1156.7 L1154.3,1157.0 L1158.6,1157.4 L1162.9,1157.7 L1167.2,1158.1 L1171.4,1158.4 L1175.7,1158.8 L1179.8,1159.1 L1184.0,1159.4 L1188.1,1159.7 L1192.1,1160.0 L1196.1,1160.3 L1200.0,1160.6 L1204.3,1160.9 L1208.6,1161.1 L1212.8,1161.4 L1217.0,1161.6 L1221.2,1161.8 L1225.3,1162.0 L1229.3,1162.2 L1233.4,1162.4 L1237.4,1162.6 L1241.4,1162.8 L1245.4,1163.0 L1249.4,1163.2 L1253.4,1163.4 L1257.4,1163.6 L1261.5,1163.9 L1265.5,1164.2 L1269.6,1164.5 L1273.7,1164.9 L1277.8,1165.2 L1281.9,1165.6 L1286.0,1166.0 L1290.1,1166.5 L1294.1,1166.9 L1298.2,1167.4 L1302.3,1167.8 L1306.4,1168.3 L1310.5,1168.8 L1314.6,1169.3 L1318.7,1169.7 L1322.7,1170.2 L1326.8,1170.7 L1330.9,1171.2 L1335.0,1171.6 L1339.1,1172.1 L1343.2,1172.5 L1347.2,1173.0 L1351.3,1173.4 L1355.3,1173.9 L1359.3,1174.3 L1363.3,1174.8 L1367.3,1175.2 L1371.3,1175.7 L1375.3,1176.1 L1379.4,1176.6 L1383.4,1177.0 L1387.5,1177.5 L1391.7,1177.9 L1395.9,1178.4 L1400.1,1178.8 L1404.4,1179.3 L1408.7,1179.8 L1412.6,1180.2 L1416.6,1180.7 L1420.6,1181.1 L1424.7,1181.6 L1428.9,1182.0 L1433.0,1182.5 L1437.3,1182.9 L1441.5,1183.4 L1445.8,1183.9 L1450.1,1184.3 L1454.4,1184.8 L1458.6,1185.3 L1462.9,1185.8 L1467.2,1186.2 L1471.4,1186.7 L1475.7,1187.2 L1479.8,1187.6 L1484.0,1188.1 L1488.1,1188.6 L1492.1,1189.0 L1496.1,1189.5 L1500.0,1189.9 L1504.3,1190.4 L1508.6,1190.9 L1512.8,1191.4 L1517.0,1191.9 L1521.2,1192.3 L1525.3,1192.8 L1529.3,1193.3 L1533.4,1193.8 L1537.4,1194.2 L1541.4,1194.7 L1545.4,1195.2 L1549.4,1195.6 L1553.4,1196.1 L1557.4,1196.6 L1561.5,1197.1 L1565.5,1197.6 L1569.6,1198.1 L1573.7,1198.6 L1577.8,1199.1 L1581.9,1199.6 L1586.0,1200.1 L1590.0,1200.7 L1594.1,1201.2 L1598.2,1201.7 L1602.3,1202.2 L1606.4,1202.8 L1610.5,1203.3 L1614.6,1203.8 L1618.7,1204.4 L1622.7,1204.9 L1626.8,1205.5 L1630.9,1206.0 L1635.0,1206.5 L1639.1,1207.1 L1643.2,1207.7 L1647.2,1208.2 L1651.3,1208.7 L1655.3,1209.3 L1659.3,1209.8 L1663.3,1210.4 L1667.3,1210.9 L1671.3,1211.5 L1675.3,1212.0 L1679.4,1212.6 L1683.5,1213.2 L1687.6,1213.7 L1691.7,1214.3 L1695.9,1215.0 L1700.1,1215.6 L1704.4,1216.2 L1708.7,1216.9 L1712.5,1217.5 L1716.3,1218.1 L1720.3,1218.7 L1724.3,1219.4 L1728.4,1220.1 L1732.5,1220.8 L1736.7,1221.5 L1740.9,1222.2 L1745.2,1222.9 L1749.4,1223.6 L1753.7,1224.4 L1757.9,1225.1 L1762.1,1225.8 L1766.3,1226.6 L1770.4,1227.3 L1774.4,1228.0 L1778.4,1228.7 L1782.3,1229.3 L1786.1,1230.0 L1789.7,1230.6 L1793.3,1231.3 L1796.7,1231.8 L1800.0,1232.4 L1804.9,1233.2 L1809.5,1234.0 L1814.0,1234.7 L1818.3,1235.4 L1822.4,1236.1 L1826.4,1236.8 L1830.3,1237.4 L1834.2,1238.1 L1837.9,1238.8 L1841.7,1239.5 L1845.9,1240.4 L1849.7,1241.2 L1853.4,1242.0 L1857.1,1242.9 L1860.9,1243.8 L1865.0,1244.7 L1869.6,1245.7 L1872.9,1246.4 L1876.3,1247.1 L1880.0,1247.8 L1883.8,1248.6 L1887.8,1249.4 L1891.8,1250.2 L1896.0,1251.0 L1900.3,1251.8 L1904.6,1252.7 L1908.9,1253.5 L1913.3,1254.4 L1917.7,1255.3 L1922.1,1256.2 L1926.4,1257.0 L1930.7,1257.9 L1935.0,1258.8 L1939.1,1259.7 L1943.2,1260.6 L1947.2,1261.5 L1951.3,1262.4 L1955.3,1263.3 L1959.3,1264.2 L1963.3,1265.1 L1967.3,1266.0 L1971.3,1267.0 L1975.3,1267.9 L1979.4,1268.9 L1983.4,1269.8 L1987.5,1270.8 L1991.7,1271.7 L1995.9,1272.7 L2000.1,1273.7 L2004.4,1274.7 L2008.7,1275.7 L2012.4,1276.6 L2016.2,1277.4 L2020.1,1278.3 L2024.0,1279.2 L2028.0,1280.1 L2031.9,1281.0 L2036.0,1281.9 L2040.0,1282.8 L2044.1,1283.8 L2048.2,1284.7 L2052.3,1285.6 L2056.4,1286.6 L2060.5,1287.5 L2064.6,1288.4 L2068.7,1289.4 L2072.7,1290.3 L2076.8,1291.2 L2080.8,1292.1 L2084.7,1293.0 L2088.6,1293.9 L2092.5,1294.8 L2096.3,1295.7 L2100.0,1296.6 L2104.3,1297.6 L2108.6,1298.6 L2112.9,1299.6 L2117.0,1300.6 L2121.2,1301.6 L2125.3,1302.6 L2129.4,1303.5 L2133.4,1304.5 L2137.4,1305.4 L2141.4,1306.4 L2145.4,1307.4 L2149.4,1308.4 L2153.4,1309.3 L2157.5,1310.3 L2161.5,1311.3 L2165.5,1312.4 L2169.6,1313.4 L2173.7,1314.5 L2177.8,1315.5 L2181.9,1316.6 L2186.0,1317.7 L2190.1,1318.8 L2194.1,1319.9 L2198.2,1321.0 L2202.3,1322.1 L2206.4,1323.2 L2210.5,1324.4 L2214.6,1325.5 L2218.7,1326.6 L2222.7,1327.7 L2226.8,1328.9 L2230.9,1330.0 L2235.0,1331.1 L2239.1,1332.2 L2243.0,1333.2 L2246.9,1334.3 L2250.8,1335.3 L2254.8,1336.4 L2258.7,1337.4 L2262.7,1338.4 L2266.6,1339.5 L2270.6,1340.5 L2274.5,1341.6 L2278.5,1342.6 L2282.4,1343.6 L2286.3,1344.7 L2290.1,1345.7 L2293.9,1346.8 L2297.7,1347.8 L2301.4,1348.9 L2305.1,1349.9 L2308.7,1351.0 L2313.0,1352.3 L2317.2,1353.6 L2321.3,1354.9 L2325.4,1356.2 L2329.4,1357.5 L2333.4,1358.8 L2337.3,1360.1 L2341.2,1361.4 L2345.2,1362.8 L2349.1,1364.1 L2353.0,1365.4 L2357.0,1366.7 L2361.0,1368.0" stroke="#ff0000"/>
</g>
<!-- arrows -->
<g fill="#000" stroke="#000">
<line x1="1000.7" y1="676.9" x2="1005.4" y2="706" stroke-width="2.4"/>
<polygon points="995.3,706.4 1015.5,703.9 1012,745.6" stroke-width="1"/>
<line x1="790" y1="865.9" x2="803.2" y2="854.3" stroke-width="2.4"/>
<polygon points="797.3,847.6 809.2,861 832.4,828.8" stroke-width="1"/>
</g>
<!-- annotations -->
<text><tspan x="737.4" y="642.4" font-size="58" letter-spacing="-0.45">Glass point: 67.65</tspan><tspan x="1180.1" y="624.3" font-size="38" letter-spacing="0">o</tspan><tspan x="1200.0" y="642.4" font-size="58" letter-spacing="0">C</tspan></text>
<text><tspan x="543.3" y="950.0" font-size="58" letter-spacing="-0.44">Glass point: 58.49</tspan><tspan x="986.2" y="931.7" font-size="38" letter-spacing="0">o</tspan><tspan x="1006.1" y="950.0" font-size="58" letter-spacing="0">C</tspan></text>
<rect x="279.5" y="33.8" width="561" height="288.2" fill="#fff" stroke="#2a2a2a" stroke-width="3.2"/>
<g stroke-width="6.5" stroke-linecap="round">
<line x1="310" y1="85.3" x2="482" y2="85.3" stroke="#000"/>
<line x1="310" y1="181" x2="482" y2="181" stroke="#ff0000"/>
<line x1="310" y1="277" x2="482" y2="277" stroke="#0000ff"/>
</g>
<text x="500.1" y="111.7" font-size="78" letter-spacing="-1.93">PVA-OP1</text>
<text x="500.1" y="207.4" font-size="78" letter-spacing="-1.73">PVA-OP2</text>
<text x="500.1" y="303.2" font-size="78" letter-spacing="-1.90">PVA-OP3</text>
<text x="478.1" y="1719.8" font-size="98">40</text>
<text x="844.0" y="1719.8" font-size="98">60</text>
<text x="1210.9" y="1719.8" font-size="98">80</text>
<text x="1550.8" y="1719.8" font-size="98">100</text>
<text x="1917.7" y="1719.8" font-size="98">120</text>
<text x="2284.6" y="1719.8" font-size="98">140</text>
<text><tspan x="826.3" y="1900.6" font-size="127" letter-spacing="-0.54">Temperature</tspan><tspan x="1572.9" y="1901.0" font-size="124" letter-spacing="0">(</tspan><tspan x="1615.3" y="1831.7" font-size="74" letter-spacing="0">o</tspan><tspan x="1651.9" y="1901.5" font-size="127" letter-spacing="0">C</tspan><tspan x="1740.2" y="1901.0" font-size="124" letter-spacing="0">)</tspan></text>
<text transform="translate(117.5,1255.4) rotate(-90)" x="0" y="0" font-size="127" letter-spacing="0.25">Heat Flow (mW)</text>
</svg>
</body></html>
